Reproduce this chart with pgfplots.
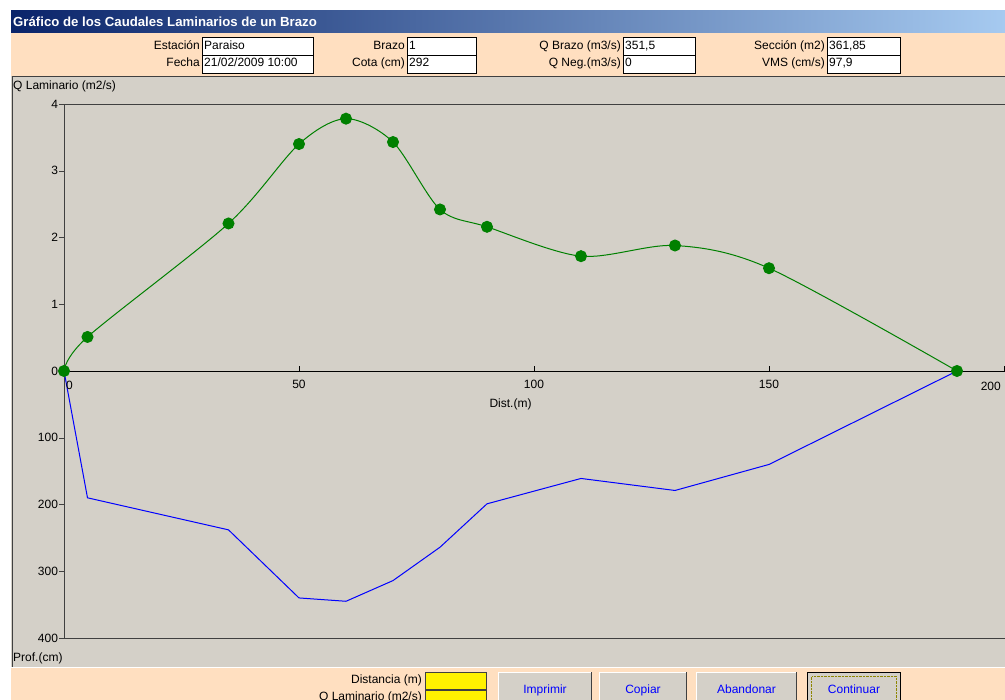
\documentclass[border=0pt]{standalone}
\usepackage{fontspec}
\setmainfont{Liberation Sans}
\usepackage{pgfplots}
\pgfplotsset{compat=1.18}

\definecolor{panel}{RGB}{212,208,200}
\definecolor{peach}{RGB}{255,223,192}
\definecolor{barL}{RGB}{10,36,106}
\definecolor{barR}{RGB}{166,202,240}
\definecolor{frame}{RGB}{64,64,64}
\definecolor{qgreen}{RGB}{0,128,0}
\definecolor{btnblue}{RGB}{0,0,255}

\newcommand\ui{\fontsize{12}{14}\selectfont}

% label right edge, box left, box right, box top, baseline, label, value
\newcommand\field[7]{%
  \draw[black,fill=white] (#2+0.5,#4-0.5) rectangle (#3-0.5,#4-18);
  \node[anchor=base east,inner sep=0] at (#1,#5) {#6};
  \node[anchor=base west,inner sep=0] at (#2+2,#5) {#7};
}
% left, right, label
\newcommand\button[3]{%
  \fill[panel] (#1,-5) rectangle (#2,28);
  \draw[white] (#1+0.5,-5) -- (#1+0.5,27.5) -- (#2-1,27.5);
  \draw[frame] (#2-0.5,-5) -- (#2-0.5,28);
  \node[anchor=base,inner sep=0,text=btnblue] at ({(#1+#2)/2},6) {#3};
}

\begin{document}
\begin{tikzpicture}[x=1pt,y=1pt,font=\ui]
\useasboundingbox (0,0) rectangle (1005,700);
\fill[white] (0,0) rectangle (1005,700);

% title bar
\shade[left color=barL,right color=barR] (11,667) rectangle (1005,689);
\node[anchor=base west,inner sep=0,text=white,font=\fontsize{13.2}{15}\selectfont\bfseries] at (13,673) {Gráfico de los Caudales Laminarios de un Brazo};

% header panel
\fill[peach] (11,624) rectangle (1005,667);
\field{200}{202}{314}{663}{650}{Estación}{Paraiso}
\field{200}{202}{314}{645}{633}{Fecha}{21/02/2009 10:00}
\field{405}{407}{477}{663}{650}{Brazo}{1}
\field{405}{407}{477}{645}{633}{Cota (cm)}{292}
\field{621}{623}{696}{663}{650}{Q Brazo (m3/s)}{351,5}
\field{621}{623}{696}{645}{633}{Q Neg.(m3/s)}{0}
\field{825}{827}{901}{663}{650}{Sección (m2)}{361,85}
\field{825}{827}{901}{645}{633}{VMS (cm/s)}{97,9}

% chart panel
\fill[panel] (11,33) rectangle (1005,624);
\draw[frame] (12.5,33) -- (12.5,623.5) -- (1005,623.5);
\draw[white] (11,32.5) -- (1005,32.5);
\node[anchor=base west,inner sep=0] at (13,610) {Q Laminario (m2/s)};
\node[anchor=base west,inner sep=0] at (13,38) {Prof.(cm)};

% bottom panel
\fill[peach] (11,0) rectangle (1005,32);
\node[anchor=base east,inner sep=0] at (422,16) {Distancia (m)};
\node[anchor=base east,inner sep=0] at (422,-1) {Q Laminario (m2/s)};
\draw[frame,fill=yellow] (425.5,27.5) rectangle (486.5,11);
\draw[frame,fill=yellow] (425.5,10) rectangle (486.5,-8);
\button{498}{592}{Imprimir}
\button{599}{687}{Copiar}
\button{696}{797}{Abandonar}
\button{807}{901}{Continuar}
\draw[black] (807.5,-5) rectangle (900.5,27.5);
\draw[olive,densely dotted] (811.5,-5) rectangle (896.5,23.5);

\begin{axis}[
  at={(64pt,62pt)}, anchor=south west,
  scale only axis, width=987pt, height=534pt,
  xmin=0, xmax=210, ymin=-4, ymax=4,
  clip=false,
  axis x line=middle, axis y line=left,
  x axis line style={-,black},
  y axis line style={-,frame},
  tick align=center, major tick length=5pt,
  major x tick style={black,yshift=2.5pt},
  major y tick style={frame,xshift=-2.5pt},
  xtick={0,50,100,150,200},
  xticklabels={,50,100,150,},
  ytick={-4,-3,-2,-1,0,1,2,3,4},
  yticklabels={400,300,200,100,0,1,2,3,4},
  tick label style={font=\ui},
  xticklabel style={yshift=-3.5pt},
]
% depth profile (cm/100, drawn downwards)
\addplot[blue, line width=1pt] coordinates {
  (0,0) (5,-1.90) (35,-2.38) (50,-3.40) (60,-3.45) (70,-3.14)
  (80,-2.64) (90,-1.99) (110,-1.61) (130,-1.79) (150,-1.40) (190,0)
};
% laminar discharge
\addplot[qgreen, line width=1pt, smooth, mark=*, mark size=5.5pt,
  mark options={fill=qgreen,draw=qgreen}] coordinates {
  (0,0) (5,0.51) (35,2.21) (50,3.40) (60,3.78) (70,3.43)
  (80,2.42) (90,2.16) (110,1.72) (130,1.88) (150,1.54) (190,0)
};
\draw[frame] (rel axis cs:0,1) -- (rel axis cs:1,1);
\draw[frame] (rel axis cs:0,0) -- (rel axis cs:1,0);
\node[anchor=base west,inner sep=0] at (axis cs:0,0) [xshift=2pt,yshift=-19pt] {0};
\node[anchor=base east,inner sep=0] at (axis cs:200,0) [xshift=-3pt,yshift=-20pt] {200};
\node[anchor=base,inner sep=0] at (axis cs:95,0) [yshift=-37pt] {Dist.(m)};
\end{axis}
\end{tikzpicture}
\end{document}
